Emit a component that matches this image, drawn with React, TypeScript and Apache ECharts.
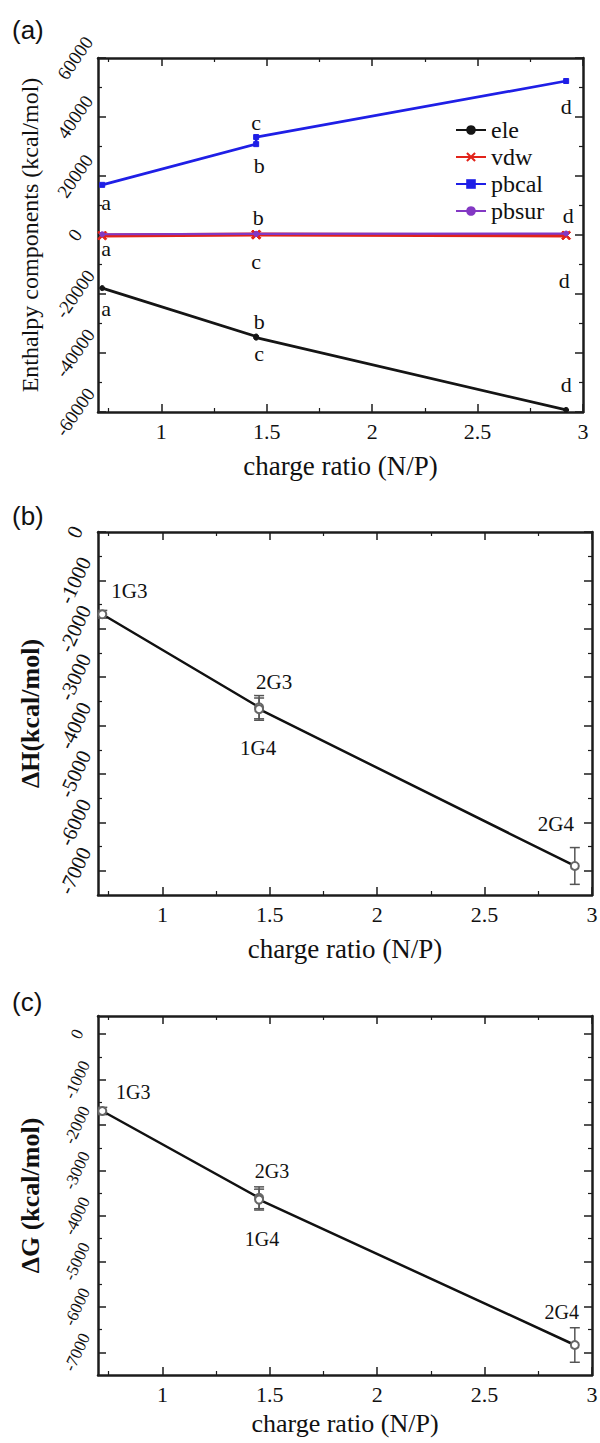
import React, { useEffect, useRef } from 'react';
import * as echarts from 'echarts';

// ---------- data ----------
const ratios = [0.72, 1.45, 1.45, 2.92];
const pointLetters = ['a', 'b', 'c', 'd'];
const seriesNamesA = ['ele', 'vdw', 'pbcal', 'pbsur'];
const eleValues = [-18000, -34400, -34800, -59300];
const vdwValues = [-200, 150, 100, -150];
const pbcalValues = [17000, 30800, 33200, 52200];
const pbsurValues = [250, 400, 350, 500];

const complexNames = ['1G3', '2G3', '1G4', '2G4'];
const dHValues = [-1700, -3620, -3660, -6900];
const dHErrors = [80, 240, 230, 380];
const dGValues = [-1690, -3600, -3640, -6840];
const dGErrors = [80, 240, 230, 380];

const xMajorTicks = [1, 1.5, 2, 2.5, 3];
const xMinorTicks = [0.75, 1.25, 1.75, 2.25, 2.75];
const yMajorTicksA = [-60000, -40000, -20000, 0, 20000, 40000, 60000];
const yMinorTicksA = [-50000, -30000, -10000, 10000, 30000, 50000];
const yMajorTicksBC = [-7000, -6000, -5000, -4000, -3000, -2000, -1000, 0];
const yMinorTicksBC = [-6500, -5500, -4500, -3500, -2500, -1500, -500];

// ---------- styles ----------
const SERIF = '"Liberation Serif", "Times New Roman", serif';
const FRAME = '#1c1c1c';
const TXT = '#111';

type AxisOpts = {
  g: number;
  xRange: [number, number];
  yRange: [number, number];
  yInterval: number;
  yLabelStep: number;
  yMajor: number[];
  yMinor: number[];
  yName: string;
  yNameBold: boolean;
  yNameSize: number;
  yNameGap: number;
  yLabelSize: number;
  yLabelRotate: number;
  yLabelMargin: number;
  xNameGap: number;
  xNameSize: number;
};

function buildAxes(o: AxisOpts) {
  const xAxes: any[] = [];
  const yAxes: any[] = [];
  for (const pos of ['bottom', 'top']) {
    const isMain = pos === 'bottom';
    xAxes.push({
      type: 'value', gridIndex: o.g, position: pos, min: o.xRange[0], max: o.xRange[1],
      axisLine: { show: true, onZero: false, lineStyle: { color: FRAME, width: 2.5 } },
      axisTick: { show: true, inside: true, length: 8, customValues: xMajorTicks, lineStyle: { color: FRAME, width: 1.5 } },
      axisLabel: isMain
        ? {
            show: true, margin: 8, fontSize: 22, color: TXT, fontFamily: SERIF,
            formatter: (v: number) => (Math.abs(v * 2 - Math.round(v * 2)) < 1e-6 ? String(v) : ''),
          }
        : { show: false },
      splitLine: { show: false },
      name: isMain ? 'charge ratio (N/P)' : '',
      nameLocation: 'middle', nameGap: o.xNameGap,
      nameTextStyle: { fontSize: o.xNameSize, color: TXT, fontFamily: SERIF },
    });
    xAxes.push({
      type: 'value', gridIndex: o.g, position: pos, min: o.xRange[0], max: o.xRange[1],
      axisLine: { show: false, onZero: false },
      axisTick: { show: true, inside: true, length: 4, customValues: xMinorTicks, lineStyle: { color: FRAME, width: 1.2 } },
      axisLabel: { show: false },
      splitLine: { show: false },
    });
  }
  for (const pos of ['left', 'right']) {
    const isMain = pos === 'left';
    const lbl: any = {
      show: true, rotate: o.yLabelRotate, align: 'center', verticalAlign: 'middle',
      margin: o.yLabelMargin, fontSize: o.yLabelSize, color: TXT, fontFamily: SERIF,
      formatter: (v: number) => (Math.abs(v / o.yLabelStep - Math.round(v / o.yLabelStep)) < 1e-6 ? String(v) : ''),
    };
    yAxes.push({
      type: 'value', gridIndex: o.g, position: pos, min: o.yRange[0], max: o.yRange[1], interval: o.yInterval,
      axisLine: { show: true, onZero: false, lineStyle: { color: FRAME, width: 2.5 } },
      axisTick: { show: true, inside: true, length: 8, customValues: o.yMajor, lineStyle: { color: FRAME, width: 1.5 } },
      axisLabel: isMain ? lbl : { show: false },
      splitLine: { show: false },
      name: isMain ? o.yName : '',
      nameLocation: 'middle', nameGap: o.yNameGap,
      nameTextStyle: { fontSize: o.yNameSize, color: TXT, fontFamily: SERIF, fontWeight: o.yNameBold ? 'bold' : 'normal' },
    });
    yAxes.push({
      type: 'value', gridIndex: o.g, position: pos, min: o.yRange[0], max: o.yRange[1],
      axisLine: { show: false, onZero: false },
      axisTick: { show: true, inside: true, length: 4, customValues: o.yMinor, lineStyle: { color: FRAME, width: 1.2 } },
      axisLabel: { show: false },
      splitLine: { show: false },
    });
  }
  return { xAxes, yAxes };
}

// label offsets (pixels) for the letters of panel (a)
const letterOffsets: Record<string, ([number, number] | null)[]> = {
  ele: [[4, 20], [3, -15], [3, 16], [0, -25]],
  vdw: [[4, 13], null, [0, 27], [-2, 45]],
  pbcal: [[4, 18], [3, 21], [0, -15], [0, 25]],
  pbsur: [null, [2, -16], null, [2, -18]],
};
const nameOffsetsB: [number, number][] = [[27, -23], [15, -25], [-1, 39], [-19, -42]];
const nameOffsetsC: [number, number][] = [[31, -19], [13, -27], [3, 39], [-13, -33]];

const xShape = 'path://M0,1.5 L1.5,0 L5,3.5 L8.5,0 L10,1.5 L6.5,5 L10,8.5 L8.5,10 L5,6.5 L1.5,10 L0,8.5 L3.5,5 Z';

function lineA(name: string, values: number[], color: string, width: number, symbol: string, size: number, z: number) {
  return {
    type: 'line', name, xAxisIndex: 0, yAxisIndex: 0, z,
    symbol, symbolSize: size,
    lineStyle: { color, width },
    itemStyle: { color, borderColor: color },
    data: ratios.map((x, i) => {
      const off = letterOffsets[name][i];
      return {
        value: [x, values[i]],
        label: off
          ? { show: true, formatter: pointLetters[i], position: 'inside', offset: off, fontSize: 22, color: TXT, fontFamily: SERIF }
          : { show: false },
      };
    }),
  };
}

function lineBC(g: number, values: number[], offsets: [number, number][], fontSize: number) {
  return {
    type: 'line', name: g === 1 ? 'ΔH' : 'ΔG', xAxisIndex: 4 * g, yAxisIndex: 4 * g, z: 4,
    symbol: 'emptyCircle', symbolSize: 8,
    lineStyle: { color: '#111', width: 2.5 },
    itemStyle: { color: '#666', borderColor: '#666', borderWidth: 1.3 },
    data: ratios.map((x, i) => ({
      value: [x, values[i]],
      label: { show: true, formatter: complexNames[i], position: 'inside', offset: offsets[i], fontSize, color: TXT, fontFamily: SERIF },
    })),
  };
}

function errorBars(g: number, values: number[], errors: number[]) {
  return {
    type: 'custom', name: 'err' + g, xAxisIndex: 4 * g, yAxisIndex: 4 * g, z: 3,
    encode: { x: 0, y: 1 },
    data: ratios.map((x, i) => [x, values[i], errors[i]]),
    renderItem: (_p: any, api: any) => {
      const x = api.value(0);
      const y = api.value(1);
      const e = api.value(2);
      const hi = api.coord([x, y + e]);
      const lo = api.coord([x, y - e]);
      const w = 5;
      const style = { stroke: '#555', lineWidth: 1.5 };
      return {
        type: 'group',
        children: [
          { type: 'line', shape: { x1: hi[0], y1: hi[1], x2: lo[0], y2: lo[1] }, style },
          { type: 'line', shape: { x1: hi[0] - w, y1: hi[1], x2: hi[0] + w, y2: hi[1] }, style },
          { type: 'line', shape: { x1: lo[0] - w, y1: lo[1], x2: lo[0] + w, y2: lo[1] }, style },
        ],
      };
    },
  };
}

export default function App() {
  const ref = useRef<HTMLDivElement>(null);
  useEffect(() => {
    if (!ref.current) return;
    const chart = echarts.init(ref.current, undefined, { renderer: 'svg' });
    const a = buildAxes({
      g: 0, xRange: [0.7, 3], yRange: [-60000, 60000], yInterval: 20000, yLabelStep: 20000,
      yMajor: yMajorTicksA, yMinor: yMinorTicksA,
      yName: 'Enthalpy components (kcal/mol)', yNameBold: false, yNameSize: 24, yNameGap: 56,
      yLabelSize: 19, yLabelRotate: 55, yLabelMargin: 23, xNameGap: 40, xNameSize: 27,
    });
    const b = buildAxes({
      g: 1, xRange: [0.7, 3], yRange: [-7500, 0], yInterval: 500, yLabelStep: 1000,
      yMajor: yMajorTicksBC, yMinor: yMinorTicksBC,
      yName: 'ΔH(kcal/mol)', yNameBold: true, yNameSize: 26, yNameGap: 55,
      yLabelSize: 21, yLabelRotate: 65, yLabelMargin: 23, xNameGap: 40, xNameSize: 27,
    });
    const c = buildAxes({
      g: 2, xRange: [0.7, 3], yRange: [-7500, 400], yInterval: 500, yLabelStep: 1000,
      yMajor: yMajorTicksBC, yMinor: yMinorTicksBC,
      yName: 'ΔG (kcal/mol)', yNameBold: true, yNameSize: 26, yNameGap: 55,
      yLabelSize: 17, yLabelRotate: 65, yLabelMargin: 21, xNameGap: 35, xNameSize: 26,
    });
    chart.setOption({
      animation: false,
      backgroundColor: '#ffffff',
      textStyle: { fontFamily: SERIF },
      grid: [
        { left: 98, top: 58, width: 485, height: 354, outerBoundsMode: 'none' },
        { left: 98, top: 532, width: 494, height: 363, outerBoundsMode: 'none' },
        { left: 98, top: 1016, width: 494, height: 359, outerBoundsMode: 'none' },
      ],
      xAxis: [...a.xAxes, ...b.xAxes, ...c.xAxes],
      yAxis: [...a.yAxes, ...b.yAxes, ...c.yAxes],
      legend: {
        data: seriesNamesA, orient: 'vertical', left: 450, top: 113,
        itemWidth: 30, itemHeight: 12, itemGap: 3,
        textStyle: { fontSize: 24, lineHeight: 24, color: TXT, fontFamily: SERIF },
      },
      graphic: [
        { type: 'text', left: 12, top: 17, style: { text: '(a)', font: '26px "Liberation Sans"', fill: TXT } },
        { type: 'text', left: 12, top: 503, style: { text: '(b)', font: '26px "Liberation Sans"', fill: TXT } },
        { type: 'text', left: 12, top: 989, style: { text: '(c)', font: '26px "Liberation Sans"', fill: TXT } },
      ],
      series: [
        lineA('ele', eleValues, '#151515', 2.7, 'circle', 5, 5),
        lineA('vdw', vdwValues, '#e2231a', 4, xShape, 9, 4),
        lineA('pbcal', pbcalValues, '#1f1fe6', 2.7, 'rect', 5, 5),
        lineA('pbsur', pbsurValues, '#8338c4', 2.2, 'circle', 5, 6),
        errorBars(1, dHValues, dHErrors),
        lineBC(1, dHValues, nameOffsetsB, 21),
        errorBars(2, dGValues, dGErrors),
        lineBC(2, dGValues, nameOffsetsC, 20),
      ],
    });
    return () => chart.dispose();
  }, []);
  return <div ref={ref} style={{ position: 'absolute', left: 0, top: 0, width: 600, height: 1443 }} />;
}
